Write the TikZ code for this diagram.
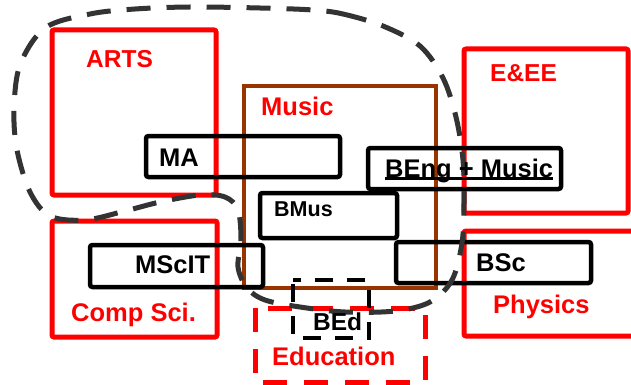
\documentclass[tikz,border=0pt]{standalone}
\usepackage{fontspec}
\setmainfont{Liberation Sans}
\definecolor{pred}{RGB}{255,0,0}
\definecolor{pbrown}{RGB}{153,51,0}
\definecolor{pgray}{RGB}{51,51,51}
\begin{document}
\begin{tikzpicture}[x=1pt,y=-1pt,
  redbox/.style={draw=pred, line width=5pt, rounded corners=2pt},
  blackbox/.style={draw=black, line width=4.5pt, rounded corners=2.5pt},
  musicbox/.style={draw=pbrown, line width=4pt},
  lbl/.style={anchor=base west, inner sep=0pt, font=\fontsize{25.5}{30}\selectfont\bfseries},
  redlbl/.style={lbl, text=pred},
  edubox/.style={draw=pred, line width=5pt, dash pattern=on 24pt off 17pt},
  bedbox/.style={draw=black, line width=4.5pt, dash pattern=on 18pt off 14pt, dash phase=-4pt},
  blob/.style={draw=pgray, line width=5pt, dash pattern=on 24pt off 16pt}
]
\useasboundingbox (0,0) rectangle (631,385);
\clip (0,0) rectangle (631,385);
% red department boxes
\draw[redbox] (52,30) rectangle (216,195);
\draw[redbox] (464,49) rectangle (628,213);
\draw[redbox] (52,221) rectangle (217,337);
\draw[redbox] (464,231) rectangle (650,336);
% music
\draw[musicbox] (244,86) rectangle (436,288);
% degree boxes
\draw[blackbox] (146,136) rectangle (340,177);
\draw[blackbox] (368,148) rectangle (561,189);
\draw[blackbox] (260,193) rectangle (397,238);
\draw[blackbox] (90,245) rectangle (263,287);
\draw[blackbox] (396,242) rectangle (591,283);
% education and BEd
\draw[edubox] (255,308) rectangle (425,382);
\draw[bedbox] (293,280) rectangle (369,338);
% blob
\draw[blob] plot[smooth cycle, tension=0.55] coordinates {
 (313,10) (343,14) (383,26) (420,46) (443,78) (456,117) (463,160) (464,203)
 (462,243) (452,280) (430,302) (395,311) (345,312) (300,307) (265,300)
 (247,288) (238,267) (241,240) (238,210) (225,197) (200,195) (160,202)
 (125,211) (85,220) (50,216) (30,192) (17,150) (14,110) (20,65) (45,28)
 (90,14) (135,9) (190,7) (260,8)};
% labels
\node[redlbl, font=\fontsize{24.5}{30}\selectfont\bfseries] (arts) at (86,68) {ARTS};
\node[redlbl, font=\fontsize{24.5}{30}\selectfont\bfseries] (eee) at (490,82) {E\&EE};
\node[redlbl] (music) at (261,115) {Music};
\node[redlbl] (comp) at (71,321.5) {Comp Sci.};
\node[redlbl] (phys) at (493,313) {Physics};
\node[redlbl] (edu) at (272,365) {Education};
\node[lbl] (ma) at (159,166) {MA};
\node[lbl] (beng) at (385,177) {BEng + Music};
\draw[line width=2.5pt] ([yshift=-1.5pt]beng.base west) -- ([yshift=-1.5pt]beng.base east);
\node[lbl, font=\fontsize{21.5}{26}\selectfont\bfseries] (bmus) at (274,216.5) {BMus};
\node[lbl] (mscit) at (135,273) {MScIT};
\node[lbl] (bsc) at (476,271.5) {BSc};
\node[lbl, font=\fontsize{24.5}{30}\selectfont\bfseries] (bed) at (313,330) {BEd};
\end{tikzpicture}
\end{document}
